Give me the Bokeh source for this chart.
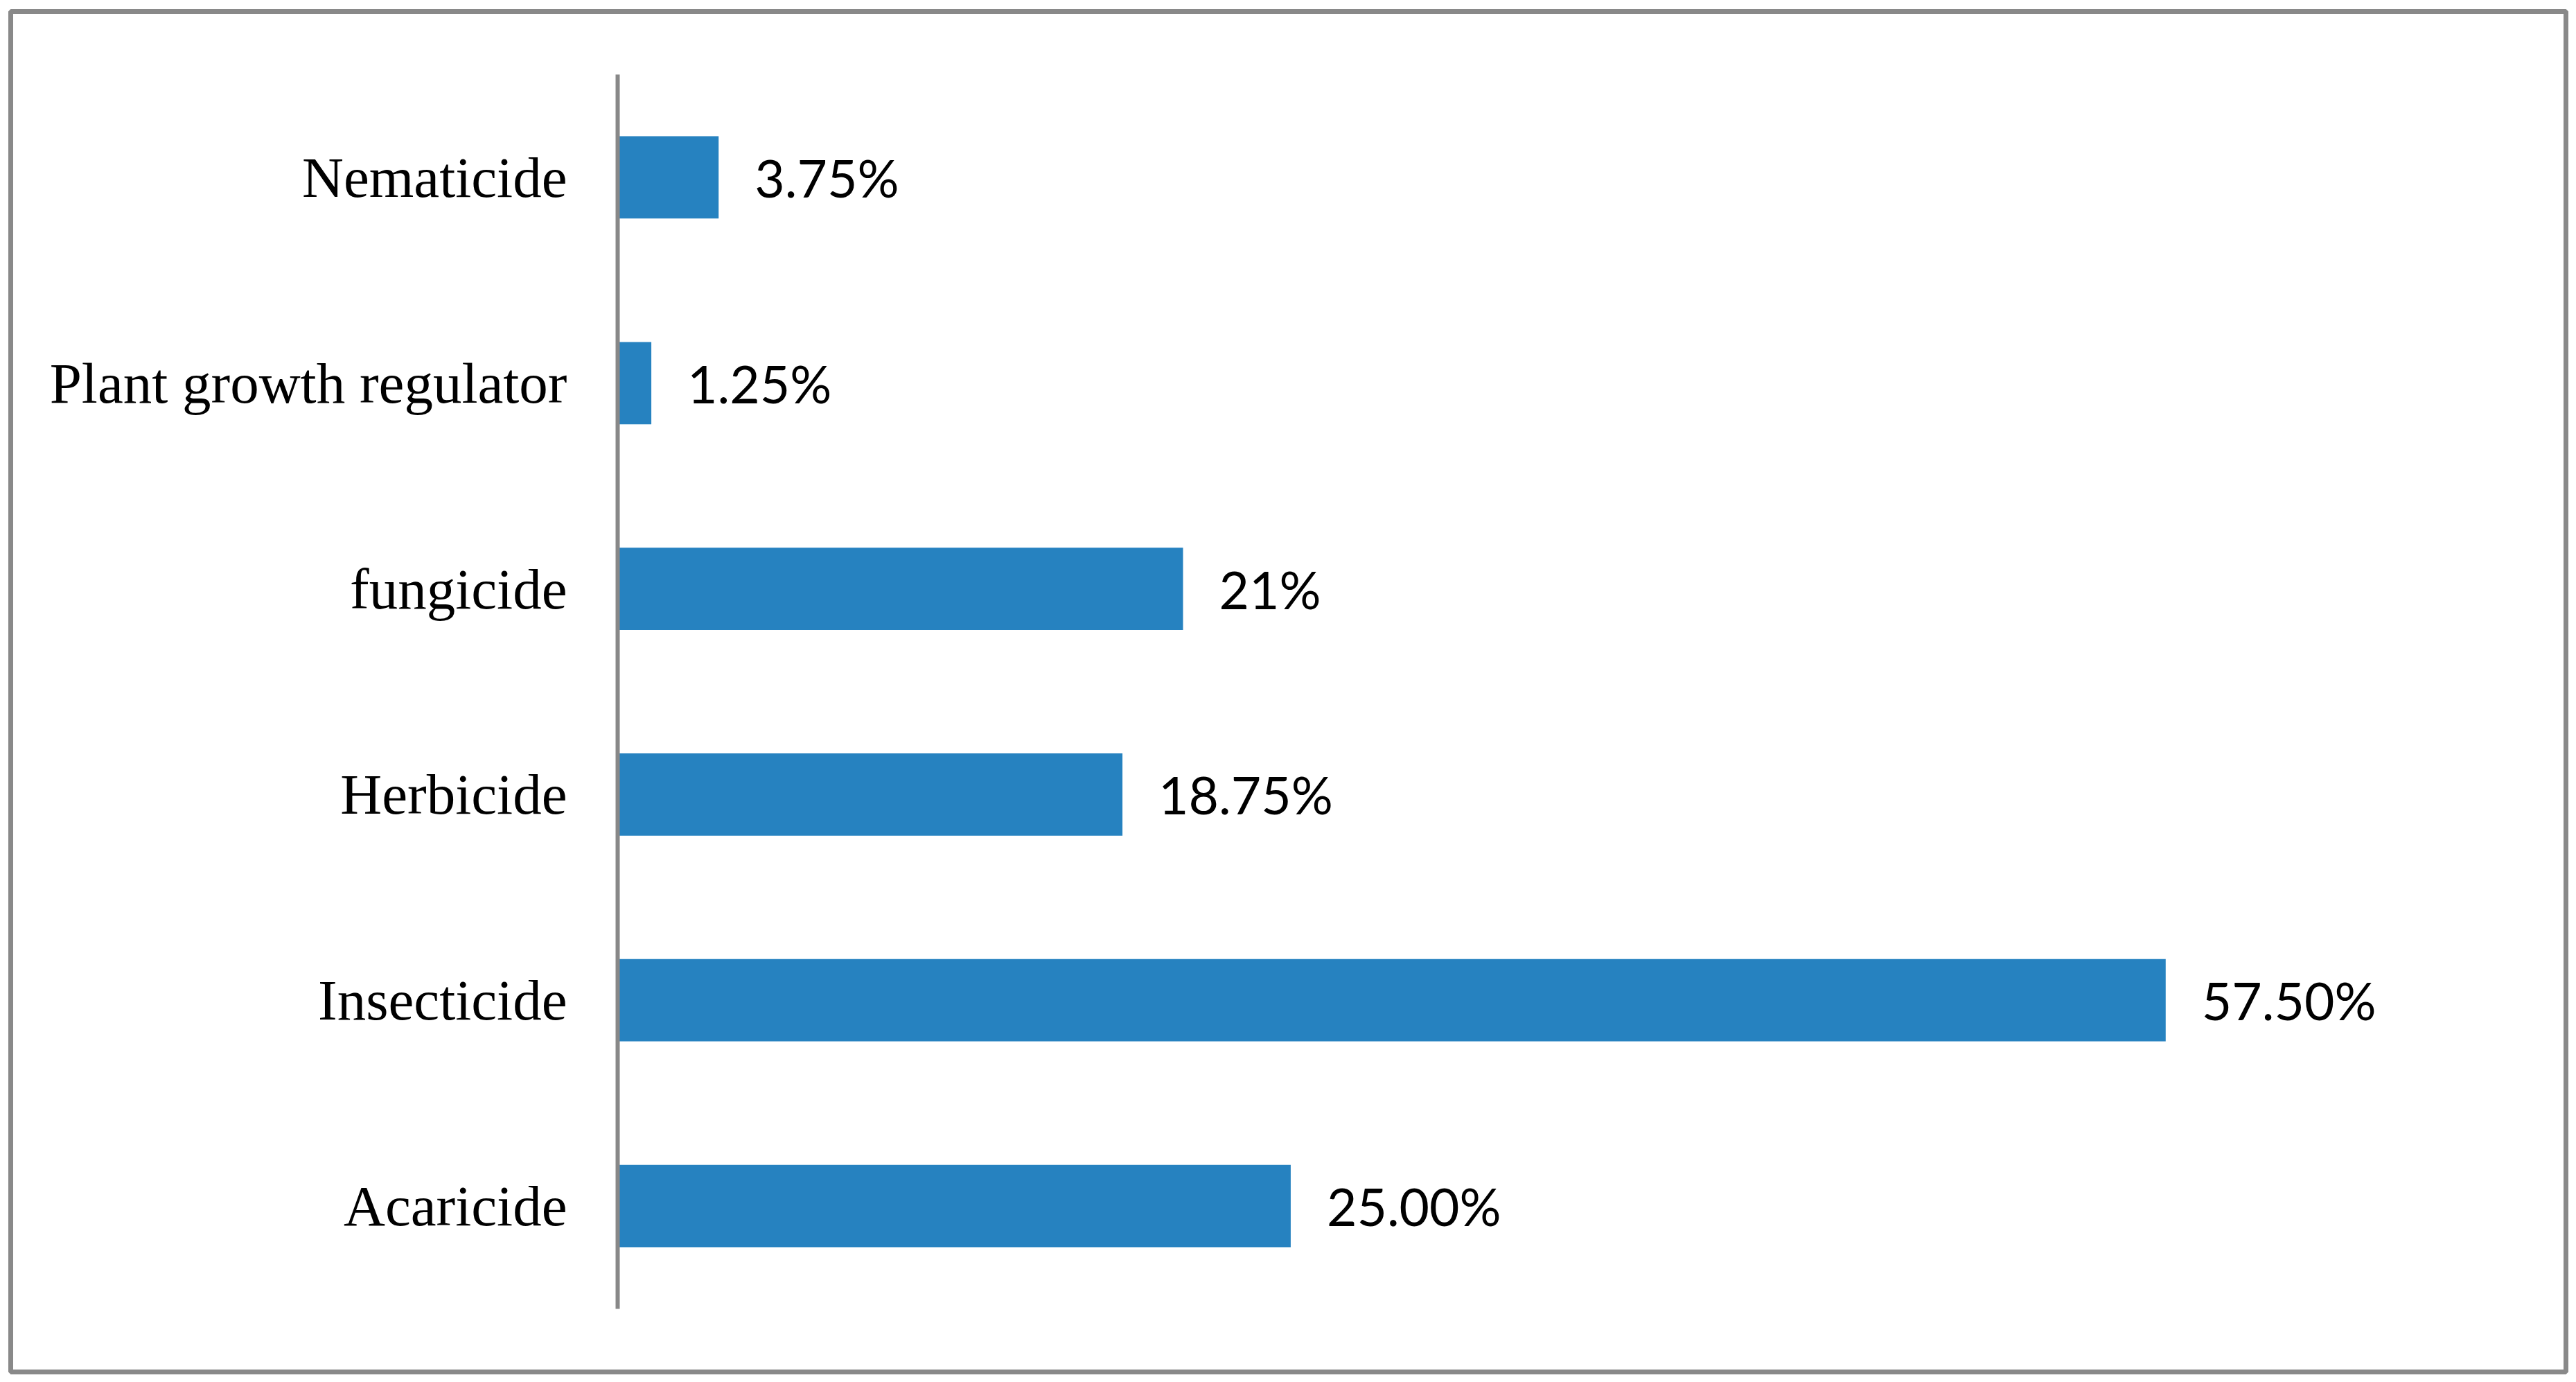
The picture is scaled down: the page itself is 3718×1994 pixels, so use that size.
from bokeh.plotting import figure
from bokeh.models import ColumnDataSource, FactorRange, Range1d
from bokeh.core.properties import value
from bokeh.embed import file_html
from bokeh.resources import INLINE

categories = ["Acaricide", "Insecticide", "Herbicide", "fungicide",
              "Plant growth regulator", "Nematicide"]
values = [25.0, 57.5, 18.75, 21.0, 1.25, 3.75]
labels = ["25.00%", "57.50%", "18.75%", "21%", "1.25%", "3.75%"]

src = ColumnDataSource(dict(cat=categories, val=values, lab=labels))

# layout (canvas pixels)
W, H = 3716, 1993
FL, FT, FW, FH = 15, 16, 3688, 1963      # frame = bordered chart box
AXIS_X = 891                              # where value 0 sits
CAT_TOP, CAT_BOT = 107, 1887              # extent of the category band
PX_PER_UNIT = 38.857

cat_px = (CAT_BOT - CAT_TOP) / len(categories)
pad_each_side = (CAT_TOP - FT) / cat_px

x_start = -(AXIS_X - FL) / PX_PER_UNIT
x_end = x_start + FW / PX_PER_UNIT

p = figure(
    y_range=FactorRange(*categories, range_padding=pad_each_side,
                        range_padding_units="absolute"),
    x_range=Range1d(x_start, x_end),
    frame_width=FW, frame_height=FH,
    min_border_left=FL, min_border_top=FT,
    min_border_right=W - FL - FW, min_border_bottom=H - FT - FH,
    output_backend="svg", toolbar_location=None,
    background_fill_color="white", border_fill_color="white",
    x_axis_location=None, y_axis_location=None,
)
p.outline_line_color = "#898989"
p.outline_line_width = 7
p.outline_line_alpha = 1.0
p.xgrid.visible = False
p.ygrid.visible = False

p.hbar(y="cat", left=0, right="val", height=0.4, source=src,
       fill_color="#2682C0", line_color=None)

# vertical category axis line
p.segment(x0=[0], y0=[(categories[0], -0.5)], x1=[0],
          y1=[(categories[-1], 0.5)],
          line_color="#888888", line_width=6, line_cap="butt")

# category labels
p.text(x=0, y="cat", text="cat", source=src, x_offset=-73,
       text_baseline="middle", text_align="right",
       text_font=value("Liberation Serif"), text_font_size="83px",
       text_color="black")

# value labels
p.text(x="val", y="cat", text="lab", source=src, x_offset=52,
       text_baseline="middle", text_align="left",
       text_font=value("Lato"), text_font_size="75px", text_color="black")

open("out.html", "w").write(file_html(p, INLINE))
